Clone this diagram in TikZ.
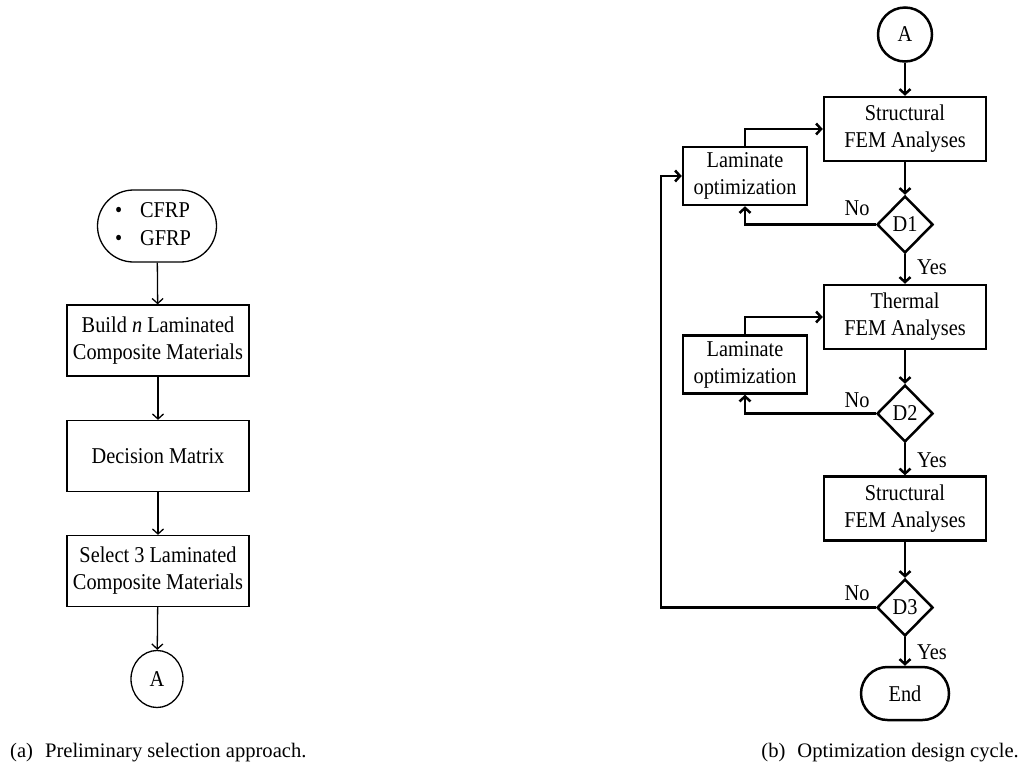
\documentclass[tikz,border=0pt]{standalone}
\usepackage{fontspec}
\setmainfont{Liberation Serif}
\newfontfamily\tallf[FakeStretch=0.9]{Liberation Serif}
\usetikzlibrary{arrows.meta,shapes.geometric,shapes.misc}
\begin{document}
\begin{tikzpicture}[x=1pt,y=-1pt,
  every node/.style={font=\tallf\fontsize{22.6}{27}\selectfont},
  lbox/.style={draw,line width=1.3pt,minimum width=182pt,minimum height=71pt,align=center,inner sep=0pt},
  larr/.style={line width=1.3pt,-{Straight Barb[length=5pt,width=11pt]}},
  rbox/.style={draw,line width=2.5pt,minimum width=162pt,minimum height=64pt,align=center,inner sep=0pt},
  lam/.style={draw,line width=2.5pt,minimum width=124pt,minimum height=58pt,align=center,inner sep=0pt},
  dec/.style={draw,line width=2.5pt,diamond,minimum width=56pt,minimum height=57pt,inner sep=0pt},
  rarr/.style={line width=2.5pt,-{Straight Barb[length=5pt,width=11pt]}},
  lbl/.style={inner sep=0pt},
  captxt/.style={font=\rmfamily\fontsize{20.6}{24}\selectfont,inner sep=0pt}
]
\useasboundingbox (0,0) rectangle (1026,764);

% ---------- (a) ----------
\node[draw,line width=1.3pt,rounded rectangle,minimum width=119pt,minimum height=72pt,inner sep=0pt] (st) at (157,226)
  {\hspace*{-8pt}\begin{tabular}{@{}l@{\hspace{18pt}}l@{}}\textbullet & CFRP\\[1pt] \textbullet & GFRP\end{tabular}};
\node[lbox] (b1) at (158,340.5) {Build \textit{n} Laminated\\Composite Materials};
\node[lbox] (b2) at (158,456) {Decision Matrix};
\node[lbox] (b3) at (158,571) {Select 3 Laminated\\Composite Materials};
\node[draw,line width=1.3pt,ellipse,minimum width=52pt,minimum height=57pt,inner sep=0pt] (a1) at (157,679) {A};
\draw[larr] (st) -- (b1);
\draw[larr] (b1) -- (b2);
\draw[larr] (b2) -- (b3);
\draw[larr] (b3) -- (a1);

% ---------- (b) ----------
\node[draw,line width=2.5pt,circle,minimum size=54pt,inner sep=0pt] (a2) at (905,34.5) {A};
\node[rbox] (s1) at (905,129) {Structural\\FEM Analyses};
\node[lam] (l1) at (745,176) {Laminate\\optimization};
\node[dec] (d1) at (905,224.5) {D1};
\node[rbox] (t2) at (905,317) {Thermal\\FEM Analyses};
\node[lam] (l2) at (745,364.5) {Laminate\\optimization};
\node[dec] (d2) at (905,413.5) {D2};
\node[rbox] (s3) at (905,508.5) {Structural\\FEM Analyses};
\node[dec] (d3) at (905,607.5) {D3};
\node[draw,line width=2.5pt,rounded rectangle,minimum width=88pt,minimum height=53pt,inner sep=0pt] (en) at (905,693.5) {End};
\coordinate (c3) at (661,607.5);

\draw[rarr] (a2) -- (s1);
\draw[rarr] (l1.north) |- (s1.west);
\draw[rarr] (s1) -- (d1);
\draw[rarr] (d1.west) -| (l1.south);
\draw[rarr] (d1) -- (t2);
\draw[rarr] (l2.north) |- (t2.west);
\draw[rarr] (t2) -- (d2);
\draw[rarr] (d2.west) -| (l2.south);
\draw[rarr] (d2) -- (s3);
\draw[rarr] (s3) -- (d3);
\draw[rarr] (d3.west) -- (c3) |- (l1.west);
\draw[rarr] (d3) -- (en);

\node[lbl] (no1) at (857,208) {No};
\node[lbl] (no2) at (857,400) {No};
\node[lbl] (no3) at (857,593) {No};
\node[lbl] (y1) at (932,267) {Yes};
\node[lbl] (y2) at (932,460) {Yes};
\node[lbl] (y3) at (932,652) {Yes};

% captions
\node[captxt,anchor=base west] (capa) at (10,757) {(a)\hspace{12pt}Preliminary selection approach.};
\node[captxt,anchor=base east] (capb) at (1019,757) {(b)\hspace{12pt}Optimization design cycle.};
\end{tikzpicture}
\end{document}
